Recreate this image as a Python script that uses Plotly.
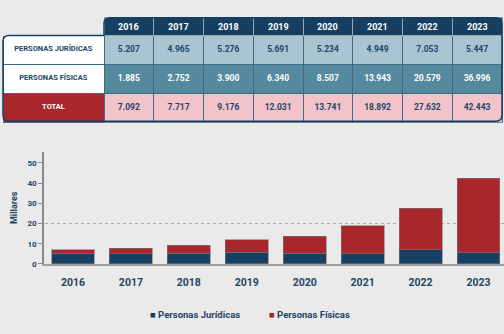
import plotly.graph_objects as go

years = ["2016", "2017", "2018", "2019", "2020", "2021", "2022", "2023"]
juridicas = [5207, 4965, 5276, 5691, 5234, 4949, 7053, 5447]
fisicas = [1885, 2752, 3900, 6340, 8507, 13943, 20579, 36996]
totales = [7092, 7717, 9176, 12031, 13741, 18892, 27632, 42443]
row_labels = ["PERSONAS JURÍDICAS", "PERSONAS FÍSICAS", "TOTAL"]
series_names = ["Personas Jurídicas", "Personas Físicas"]
y_ticks = [0, 10, 20, 30, 40, 50]

NAVY = "#163f61"
RED = "#a8262c"
LIGHT = "#a9c5d2"
MID = "#55899e"
PINK = "#f2c4ca"
BG = "#eaeaea"
TXT = "#1e4566"

W, H = 504, 334
TX0, LABEL_W, TX1 = 3, 101, 502
COL_W = (TX1 - TX0 - LABEL_W) / len(years)
HDR_Y0, HDR_H = 18, 18
ROW_H = 29
TABLE_Y1 = HDR_Y0 + HDR_H + 3 * ROW_H


def fmt(v):
    return f"{v:,}".replace(",", ".")


def b(s):
    return f"<b>{s}</b>"


def px(x, y):
    return f"{x / W:.5f},{1 - y / H:.5f}"


cell_values = [[b(s) for s in row_labels]]
cell_fill = [["white", "white", RED]]
cell_font = [[TXT, TXT, "white"]]
for j, f, t in zip(juridicas, fisicas, totales):
    cell_values.append([b(fmt(j)), b(fmt(f)), b(fmt(t))])
    cell_fill.append([LIGHT, MID, PINK])
    cell_font.append([TXT, "white", TXT])

fig = go.Figure()

fig.add_trace(go.Table(
    domain=dict(x=[TX0 / W, TX1 / W], y=[1 - (TABLE_Y1 + 2) / H, 1 - HDR_Y0 / H]),
    columnwidth=[LABEL_W] + [COL_W] * len(years),
    header=dict(
        values=[""] * (len(years) + 1),
        fill=dict(color=[BG] + [NAVY] * len(years)),
        line=dict(color=[BG] + ["#8fa9bb"] * len(years), width=1),
        height=HDR_H,
    ),
    cells=dict(
        values=cell_values,
        fill=dict(color=cell_fill),
        line=dict(color="#3f6a84", width=1),
        font=dict(family="Roboto", size=[7.5] + [8.5] * len(years), color=cell_font),
        align="center",
        height=ROW_H,
    ),
))

# year labels of the table header
for i, yr in enumerate(years):
    cx = TX0 + LABEL_W + COL_W * (i + 0.5)
    fig.add_annotation(
        xref="paper", yref="paper", x=cx / W, y=1 - (HDR_Y0 + HDR_H / 2) / H,
        xanchor="center", yanchor="middle", text=b(yr), showarrow=False,
        font=dict(family="Roboto", size=9, color="white"),
    )

# rounded outline of the table
r = 6
bx = TX0 + LABEL_W
by = HDR_Y0 + HDR_H
path = (
    f"M{px(bx, HDR_Y0 + r)} Q{px(bx, HDR_Y0)} {px(bx + r, HDR_Y0)} "
    f"L{px(TX1 - r, HDR_Y0)} Q{px(TX1, HDR_Y0)} {px(TX1, HDR_Y0 + r)} "
    f"L{px(TX1, TABLE_Y1 - r)} Q{px(TX1, TABLE_Y1)} {px(TX1 - r, TABLE_Y1)} "
    f"L{px(TX0 + r, TABLE_Y1)} Q{px(TX0, TABLE_Y1)} {px(TX0, TABLE_Y1 - r)} "
    f"L{px(TX0, by + r)} Q{px(TX0, by)} {px(TX0 + r, by)} L{px(bx, by)} Z"
)
fig.add_shape(type="path", xref="paper", yref="paper", path=path,
              line=dict(color=NAVY, width=1.5), layer="above")

for name, vals, col in zip(series_names, [juridicas, fisicas], [NAVY, RED]):
    fig.add_trace(go.Bar(
        x=years, y=[v / 1000 for v in vals], name=name, showlegend=False,
        marker=dict(color=col, line=dict(color="rgba(120,120,120,0.6)", width=1)),
        width=0.74,
    ))
    fig.add_trace(go.Scatter(
        x=[None], y=[None], mode="markers", showlegend=True,
        name=f"<span style='color:{col}'>■</span> <b>{name}</b>",
        marker=dict(color="rgba(0,0,0,0)", size=1),
    ))
# spacer entry so the last legend label is not clipped
fig.add_trace(go.Scatter(x=[None], y=[None], mode="markers", showlegend=True, name=" ",
                         marker=dict(color="rgba(0,0,0,0)", size=1)))

fig.add_shape(type="line", xref="paper", yref="y", x0=45 / W, x1=1, y0=20, y1=20,
              line=dict(color="#aaaaaa", width=1, dash="dot"), layer="below")

fig.update_layout(
    width=W, height=H,
    margin=dict(l=0, r=0, t=0, b=0),
    paper_bgcolor=BG, plot_bgcolor="rgba(0,0,0,0)",
    barmode="stack",
    font=dict(family="Roboto", color=TXT),
    xaxis=dict(
        domain=[44 / W, 1], range=[-0.5, 7.44], type="category",
        showline=True, linecolor="#a0a0a0", linewidth=2,
        ticks="", ticklabelstandoff=7,
        tickfont=dict(size=10.5, color=TXT, weight="bold"),
        showgrid=False, anchor="y",
    ),
    yaxis=dict(
        domain=[1 - 268 / H, 1 - 154 / H], range=[0, 55.5],
        tickvals=y_ticks, showline=True, linecolor="#8a8a8a", linewidth=1.5,
        ticks="outside", ticklen=4, tickcolor="#8a8a8a",
        tickfont=dict(size=8, color=TXT, weight="bold"),
        showgrid=False, zeroline=False,
        title=dict(text="<b>Millares</b>", font=dict(size=9, color=TXT), standoff=8),
    ),
    legend=dict(orientation="h", x=110 / W, xanchor="left", y=1 - 319 / H, yanchor="middle",
                font=dict(size=9.5, color=TXT), traceorder="normal",
                entrywidth=74, entrywidthmode="pixels", bgcolor="rgba(0,0,0,0)"),
)

fig.write_html("out.html")
